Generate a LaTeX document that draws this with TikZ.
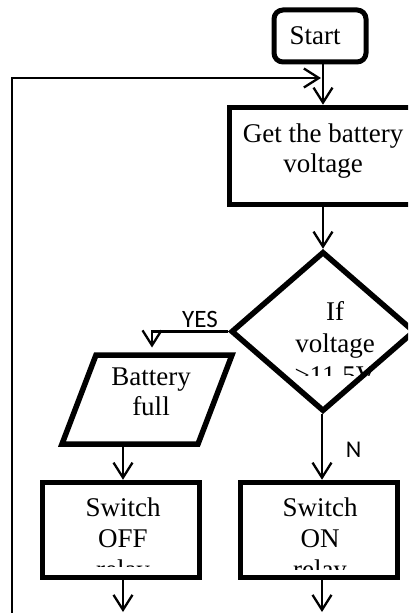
\documentclass[tikz,border=0pt]{standalone}
\usepackage{fontspec}
\setmainfont{Liberation Serif}
\newfontfamily\labfont{Carlito}
\usetikzlibrary{arrows.meta,shapes.geometric}
\newcommand\serifat[1]{\fontsize{27bp}{#1bp}\selectfont}
\newcommand\labat[1]{\labfont\fontsize{#1bp}{#1bp}\selectfont}
\tikzset{
  conn/.style={line width=2.3bp, -{Straight Barb[length=15bp,width=19bp]}},
  procbox/.style={draw, rectangle, line width=5.5bp, inner sep=0pt},
  startbox/.style={draw, rectangle, rounded corners=9bp, line width=5bp, inner sep=0pt,
    minimum width=92bp, minimum height=52bp},
  decbox/.style={draw, diamond, line width=5.5bp, inner sep=0pt,
    minimum width=184bp, minimum height=160bp},
  txt/.style={align=center, inner sep=0pt},
  lab/.style={inner sep=0pt, anchor=base}
}
\begin{document}
\begin{tikzpicture}[x=1bp,y=-1bp]
\useasboundingbox (0,0) rectangle (408,613);
\clip (0,0) rectangle (408,613);
\fill[white] (0,0) rectangle (408,613);

% shapes
\node[startbox] (start) at (320,36) {};
\node[lab, font=\serifat{30}] (starttxt) at (315,45) {Start};

\node[procbox, minimum width=187bp, minimum height=97bp] (get) at (323,156) {};
\node[txt, font=\serifat{29.5}] (gettxt) at (323,151.85) {\strut Get the battery\\\strut voltage};

\node[decbox] (dia) at (323,331.5) {};
\begin{scope}
  \clip (0,0) rectangle (408,375);
  \node[txt, font=\serifat{32}] (diatxt) at (335,345.6) {\strut If\\\strut voltage\\\strut >11.5V};
\end{scope}

\coordinate (pTL) at (96,355);
\coordinate (pTR) at (232,355);
\coordinate (pBR) at (198,444);
\coordinate (pBL) at (62,444);
\draw[line width=5.5bp] (pTL) -- (pTR) -- (pBR) -- (pBL) -- cycle;
\coordinate (paratop) at (152,352.5);
\coordinate (parabot) at (123,446.5);
\node[txt, font=\serifat{30}] (paratxt) at (151,394) {\strut Battery\\\strut full};

\node[procbox, minimum width=157bp, minimum height=95bp] (off) at (121,530) {};
\begin{scope}
  \clip (0,0) rectangle (408,566);
  \node[txt, font=\serifat{31}] (offtxt) at (123,540.8) {\strut Switch\\\strut OFF\\\strut relay};
\end{scope}

\node[procbox, minimum width=157bp, minimum height=95bp] (on) at (319,530) {};
\begin{scope}
  \clip (0,0) rectangle (408,569);
  \node[txt, font=\serifat{31}] (ontxt) at (320,540.8) {\strut Switch\\\strut ON\\\strut relay};
\end{scope}

% labels
\node[lab, font=\labat{25}] (yes) at (200,327) {YES};
\node[lab, font=\labat{24}] (no) at (353.5,457) {N};

% connectors
\coordinate (loopin) at (12,613);
\coordinate (join) at (321,78);
\coordinate (offend) at (123,612);
\coordinate (onend) at (322,612);

\draw[conn] (get.north |- start.south) -- (get.north);
\draw[conn] (loopin) |- (join);
\draw[conn] (get.south) -- (dia.north);
\draw[conn, shorten >=5bp] (dia.west) -| (paratop);
\draw[conn] (parabot) -- (parabot |- off.north);
\draw[conn] (onend |- dia.south) -- (onend |- on.north);
\draw[conn] (parabot |- off.south) -- (offend);
\draw[conn] (onend |- on.south) -- (onend);
\end{tikzpicture}
\end{document}
